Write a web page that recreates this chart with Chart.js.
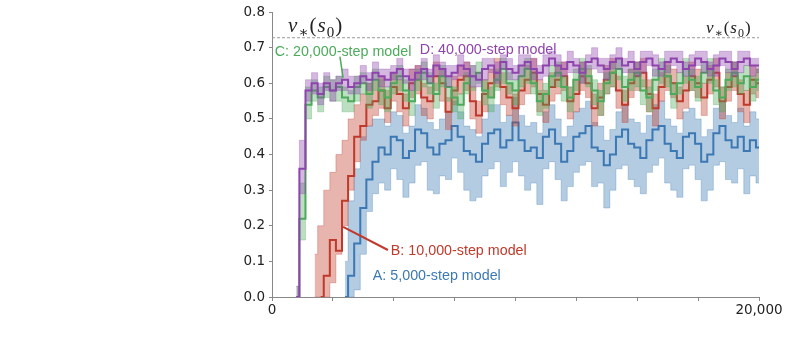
<!DOCTYPE html>
<html>
<head>
<meta charset="utf-8">
<script src="https://cdn.jsdelivr.net/npm/chart.js@4/dist/chart.umd.min.js"></script>
<style>
  html, body { margin: 0; padding: 0; background: #fff; }
  #wrap { width: 789px; height: 349px; }
</style>
</head>
<body>
<div id="wrap"><canvas id="curveChart" width="789" height="349"></canvas></div>
<script>
// training steps (x), one sample every 250 steps
const steps = [
  0, 250, 500, 750, 1000, 1250, 1500, 1750, 2000, 2250,
  2500, 2750, 3000, 3250, 3500, 3750, 4000, 4250, 4500, 4750,
  5000, 5250, 5500, 5750, 6000, 6250, 6500, 6750, 7000, 7250,
  7500, 7750, 8000, 8250, 8500, 8750, 9000, 9250, 9500, 9750,
  10000, 10250, 10500, 10750, 11000, 11250, 11500, 11750, 12000, 12250,
  12500, 12750, 13000, 13250, 13500, 13750, 14000, 14250, 14500, 14750,
  15000, 15250, 15500, 15750, 16000, 16250, 16500, 16750, 17000, 17250,
  17500, 17750, 18000, 18250, 18500, 18750, 19000, 19250, 19500, 19750,
  20000
];
const yTicks = [0, 0.1, 0.2, 0.3, 0.4, 0.5, 0.6, 0.7, 0.8];
const xLabelled = [0, 20000];
const vStar = 0.728;

// A: 5,000-step model
const aMean = [
  null, null, null, null, null, null, null, null, null, null,
  null, null, 0.00, 0.06, 0.15, 0.25, 0.33, 0.38, 0.42, 0.40,
  0.45, 0.44, 0.39, 0.41, 0.47, 0.46, 0.42, 0.40, 0.43, 0.44,
  0.48, 0.45, 0.41, 0.40, 0.38, 0.43, 0.46, 0.47, 0.42, 0.44,
  0.49, 0.44, 0.41, 0.42, 0.39, 0.45, 0.47, 0.43, 0.38, 0.41,
  0.45, 0.46, 0.48, 0.42, 0.41, 0.37, 0.40, 0.45, 0.47, 0.43,
  0.42, 0.39, 0.44, 0.47, 0.48, 0.43, 0.41, 0.39, 0.45, 0.46,
  0.43, 0.38, 0.40, 0.46, 0.48, 0.44, 0.42, 0.45, 0.41, 0.44,
  0.42
];
const aLow = [
  null, null, null, null, null, null, null, null, null, null,
  null, null, 0.00, 0.00, 0.02, 0.12, 0.24, 0.29, 0.32, 0.30,
  0.36, 0.33, 0.28, 0.32, 0.37, 0.38, 0.30, 0.29, 0.34, 0.33,
  0.39, 0.35, 0.30, 0.27, 0.28, 0.34, 0.36, 0.38, 0.31, 0.35,
  0.38, 0.34, 0.30, 0.32, 0.26, 0.36, 0.38, 0.33, 0.27, 0.31,
  0.35, 0.37, 0.38, 0.31, 0.32, 0.25, 0.30, 0.36, 0.37, 0.33,
  0.31, 0.29, 0.35, 0.37, 0.39, 0.32, 0.30, 0.28, 0.36, 0.37,
  0.33, 0.27, 0.30, 0.37, 0.38, 0.33, 0.32, 0.36, 0.29, 0.34,
  0.32
];
const aHigh = [
  null, null, null, null, null, null, null, null, null, null,
  null, null, 0.10, 0.27, 0.36, 0.45, 0.48, 0.50, 0.50, 0.48,
  0.52, 0.51, 0.46, 0.48, 0.54, 0.53, 0.49, 0.47, 0.50, 0.52,
  0.55, 0.52, 0.48, 0.47, 0.45, 0.50, 0.54, 0.54, 0.49, 0.51,
  0.56, 0.51, 0.48, 0.49, 0.46, 0.52, 0.54, 0.50, 0.45, 0.48,
  0.52, 0.53, 0.55, 0.49, 0.48, 0.44, 0.47, 0.52, 0.54, 0.50,
  0.49, 0.46, 0.51, 0.54, 0.55, 0.50, 0.48, 0.46, 0.52, 0.53,
  0.50, 0.45, 0.47, 0.53, 0.55, 0.51, 0.49, 0.53, 0.48, 0.52,
  0.50
];

// B: 10,000-step model
const bMean = [
  null, null, null, null, null, null, null, null, 0.00, 0.06,
  0.16, 0.13, 0.27, 0.34, 0.45, 0.48, 0.54, 0.55, 0.58, 0.53,
  0.59, 0.57, 0.53, 0.60, 0.61, 0.56, 0.55, 0.62, 0.60, 0.52,
  0.58, 0.61, 0.62, 0.55, 0.51, 0.57, 0.60, 0.63, 0.59, 0.56,
  0.53, 0.58, 0.61, 0.63, 0.57, 0.54, 0.59, 0.61, 0.62, 0.55,
  0.57, 0.62, 0.60, 0.53, 0.56, 0.61, 0.63, 0.58, 0.54, 0.60,
  0.62, 0.63, 0.57, 0.53, 0.59, 0.62, 0.60, 0.55, 0.58, 0.62,
  0.60, 0.56, 0.61, 0.63, 0.55, 0.59, 0.62, 0.57, 0.54, 0.61,
  0.60
];
const bLow = [
  null, null, null, null, null, null, null, 0.00, 0.00, 0.00,
  0.04, 0.12, 0.20, 0.30, 0.38, 0.44, 0.48, 0.51, 0.53, 0.49,
  0.55, 0.52, 0.48, 0.56, 0.57, 0.51, 0.50, 0.58, 0.55, 0.47,
  0.54, 0.57, 0.58, 0.50, 0.46, 0.52, 0.56, 0.59, 0.54, 0.51,
  0.48, 0.54, 0.57, 0.59, 0.52, 0.49, 0.55, 0.57, 0.58, 0.50,
  0.52, 0.58, 0.56, 0.48, 0.51, 0.57, 0.59, 0.53, 0.49, 0.56,
  0.58, 0.59, 0.52, 0.48, 0.55, 0.58, 0.56, 0.50, 0.53, 0.58,
  0.56, 0.51, 0.57, 0.59, 0.50, 0.55, 0.58, 0.52, 0.49, 0.57,
  0.56
];
const bHigh = [
  null, null, null, null, null, null, null, 0.12, 0.20, 0.30,
  0.35, 0.40, 0.44, 0.50, 0.54, 0.57, 0.60, 0.61, 0.62, 0.58,
  0.63, 0.61, 0.57, 0.64, 0.65, 0.60, 0.59, 0.66, 0.64, 0.56,
  0.62, 0.65, 0.66, 0.59, 0.55, 0.61, 0.64, 0.67, 0.63, 0.60,
  0.57, 0.62, 0.65, 0.67, 0.61, 0.58, 0.63, 0.65, 0.66, 0.59,
  0.61, 0.66, 0.64, 0.57, 0.60, 0.65, 0.67, 0.62, 0.58, 0.64,
  0.66, 0.67, 0.61, 0.57, 0.63, 0.66, 0.64, 0.59, 0.62, 0.66,
  0.64, 0.60, 0.65, 0.67, 0.59, 0.63, 0.66, 0.61, 0.58, 0.65,
  0.64
];

// C: 20,000-step model
const cMean = [
  null, null, null, null, 0.00, 0.22, 0.54, 0.58, 0.56, 0.59,
  0.58, 0.59, 0.56, 0.55, 0.59, 0.60, 0.57, 0.61, 0.58, 0.56,
  0.60, 0.62, 0.58, 0.55, 0.61, 0.63, 0.60, 0.57, 0.62, 0.59,
  0.56, 0.54, 0.60, 0.62, 0.63, 0.58, 0.56, 0.61, 0.64, 0.60,
  0.58, 0.62, 0.64, 0.60, 0.55, 0.57, 0.62, 0.63, 0.59, 0.56,
  0.61, 0.64, 0.62, 0.58, 0.55, 0.60, 0.63, 0.64, 0.59, 0.61,
  0.63, 0.58, 0.56, 0.61, 0.64, 0.62, 0.57, 0.60, 0.64, 0.61,
  0.59, 0.63, 0.64, 0.58, 0.56, 0.61, 0.63, 0.60, 0.62, 0.59,
  0.61
];
const cLow = [
  null, null, null, null, 0.00, 0.16, 0.50, 0.55, 0.52, 0.56,
  0.55, 0.55, 0.52, 0.52, 0.55, 0.57, 0.53, 0.58, 0.54, 0.52,
  0.57, 0.58, 0.55, 0.51, 0.58, 0.59, 0.57, 0.53, 0.59, 0.55,
  0.52, 0.50, 0.57, 0.58, 0.60, 0.54, 0.52, 0.58, 0.60, 0.57,
  0.54, 0.59, 0.60, 0.57, 0.51, 0.53, 0.59, 0.59, 0.55, 0.52,
  0.58, 0.60, 0.59, 0.54, 0.51, 0.57, 0.59, 0.61, 0.55, 0.58,
  0.59, 0.54, 0.52, 0.58, 0.60, 0.59, 0.53, 0.57, 0.60, 0.58,
  0.55, 0.60, 0.60, 0.54, 0.52, 0.58, 0.59, 0.57, 0.58, 0.55,
  0.58
];
const cHigh = [
  null, null, null, null, 0.03, 0.32, 0.59, 0.61, 0.59, 0.62,
  0.61, 0.62, 0.59, 0.58, 0.62, 0.63, 0.60, 0.64, 0.61, 0.59,
  0.63, 0.65, 0.61, 0.58, 0.64, 0.66, 0.63, 0.60, 0.65, 0.62,
  0.59, 0.57, 0.63, 0.65, 0.66, 0.61, 0.59, 0.64, 0.67, 0.63,
  0.61, 0.65, 0.67, 0.63, 0.58, 0.60, 0.65, 0.66, 0.62, 0.59,
  0.64, 0.67, 0.65, 0.61, 0.58, 0.63, 0.66, 0.67, 0.62, 0.64,
  0.66, 0.61, 0.59, 0.64, 0.67, 0.65, 0.60, 0.63, 0.67, 0.64,
  0.62, 0.66, 0.67, 0.61, 0.59, 0.64, 0.66, 0.63, 0.65, 0.62,
  0.64
];

// D: 40,000-step model
const dMean = [
  null, null, null, null, 0.00, 0.36, 0.58, 0.60, 0.57, 0.60,
  0.58, 0.60, 0.61, 0.59, 0.60, 0.62, 0.61, 0.63, 0.62, 0.61,
  0.63, 0.64, 0.62, 0.61, 0.63, 0.64, 0.62, 0.65, 0.64, 0.62,
  0.63, 0.65, 0.64, 0.62, 0.61, 0.64, 0.65, 0.63, 0.66, 0.64,
  0.63, 0.65, 0.66, 0.64, 0.63, 0.65, 0.67, 0.65, 0.64, 0.66,
  0.65, 0.63, 0.66, 0.67, 0.65, 0.64, 0.66, 0.67, 0.65, 0.66,
  0.64, 0.66, 0.67, 0.65, 0.64, 0.66, 0.67, 0.66, 0.64, 0.65,
  0.67, 0.66, 0.64, 0.65, 0.67, 0.66, 0.64, 0.66, 0.67, 0.65,
  0.65
];
const dLow = [
  null, null, null, null, 0.00, 0.29, 0.55, 0.57, 0.54, 0.58,
  0.55, 0.58, 0.58, 0.57, 0.57, 0.60, 0.58, 0.61, 0.59, 0.59,
  0.61, 0.61, 0.60, 0.58, 0.61, 0.61, 0.60, 0.62, 0.62, 0.59,
  0.61, 0.62, 0.62, 0.59, 0.59, 0.61, 0.63, 0.60, 0.64, 0.61,
  0.61, 0.62, 0.64, 0.61, 0.61, 0.62, 0.65, 0.62, 0.62, 0.63,
  0.63, 0.60, 0.64, 0.64, 0.63, 0.61, 0.64, 0.64, 0.63, 0.63,
  0.62, 0.63, 0.65, 0.62, 0.62, 0.63, 0.65, 0.63, 0.62, 0.62,
  0.65, 0.63, 0.62, 0.62, 0.65, 0.63, 0.62, 0.63, 0.65, 0.62,
  0.63
];
const dHigh = [
  null, null, null, null, 0.03, 0.44, 0.61, 0.63, 0.60, 0.63,
  0.61, 0.62, 0.64, 0.62, 0.62, 0.65, 0.63, 0.66, 0.64, 0.64,
  0.65, 0.67, 0.64, 0.64, 0.65, 0.67, 0.64, 0.68, 0.66, 0.65,
  0.65, 0.68, 0.66, 0.65, 0.63, 0.67, 0.67, 0.66, 0.68, 0.67,
  0.65, 0.68, 0.68, 0.67, 0.65, 0.68, 0.69, 0.68, 0.66, 0.69,
  0.67, 0.66, 0.68, 0.70, 0.67, 0.67, 0.68, 0.70, 0.67, 0.69,
  0.66, 0.69, 0.69, 0.68, 0.66, 0.69, 0.69, 0.69, 0.66, 0.68,
  0.69, 0.69, 0.66, 0.68, 0.69, 0.69, 0.66, 0.69, 0.69, 0.67,
  0.67
];

const blue = '#3b78b4', red = '#c0392b', green = '#4caa5a', purple = '#8e44ad';

function pts(vals) {
  return steps.map((s, i) => ({ x: s, y: vals[i] }));
}

function band(lo, hi, rgb, order) {
  return [
    { data: pts(lo), borderColor: 'rgba(' + rgb + ',0.3)', borderWidth: 1, fill: false, order: order + 2 },
    { data: pts(hi), borderColor: 'rgba(' + rgb + ',0.3)', borderWidth: 1,
      backgroundColor: 'rgba(' + rgb + ',0.38)', fill: '-1', order: order + 1 }
  ];
}

function meanLine(vals, color, order) {
  return { data: pts(vals), borderColor: color, borderWidth: 2, fill: false, order: order };
}

const datasets = [
  ...band(aLow, aHigh, '59,120,180', 40), meanLine(aMean, blue, 40),
  ...band(bLow, bHigh, '192,57,43', 30), meanLine(bMean, red, 30),
  ...band(cLow, cHigh, '76,170,90', 20), meanLine(cMean, green, 20),
  ...band(dLow, dHigh, '142,68,173', 10), meanLine(dMean, purple, 10)
];

// v*(s0) written as pieces: italic letters, subscripts
function drawVStar(ctx, x, y, size) {
  const parts = [
    { t: 'v', f: 'italic ' + size + 'px "Liberation Serif"', dy: 0 },
    { t: '\u2217', f: Math.round(size * 0.7) + 'px "DejaVu Serif"', dy: size * 0.25 },
    { t: '(', f: size + 'px "Liberation Serif"', dy: 0 },
    { t: 's', f: 'italic ' + size + 'px "Liberation Serif"', dy: 0 },
    { t: '0', f: Math.round(size * 0.7) + 'px "Liberation Serif"', dy: size * 0.25 },
    { t: ')', f: size + 'px "Liberation Serif"', dy: 0 }
  ];
  ctx.fillStyle = '#222';
  ctx.textBaseline = 'alphabetic';
  ctx.textAlign = 'left';
  for (const p of parts) {
    ctx.font = p.f;
    ctx.fillText(p.t, x, y + p.dy);
    x += ctx.measureText(p.t).width + 1;
  }
}

const notes = {
  id: 'notes',
  afterDatasetsDraw(chart) {
    const { ctx, chartArea, scales: { x, y } } = chart;
    ctx.save();
    // optimal value line
    const yv = y.getPixelForValue(vStar);
    ctx.strokeStyle = '#999';
    ctx.lineWidth = 1;
    ctx.setLineDash([3, 2]);
    ctx.beginPath();
    ctx.moveTo(chartArea.left, yv);
    ctx.lineTo(chartArea.right, yv);
    ctx.stroke();
    ctx.setLineDash([]);
    drawVStar(ctx, 288, 32, 21);
    drawVStar(ctx, 706, 33, 17);

    // leader lines
    ctx.lineWidth = 1.5;
    ctx.strokeStyle = green;
    ctx.beginPath();
    ctx.moveTo(x.getPixelForValue(2790), y.getPixelForValue(0.675));
    ctx.lineTo(x.getPixelForValue(2920), y.getPixelForValue(0.615));
    ctx.stroke();
    ctx.lineWidth = 2;
    ctx.strokeStyle = red;
    ctx.beginPath();
    ctx.moveTo(x.getPixelForValue(2920), y.getPixelForValue(0.197));
    ctx.lineTo(x.getPixelForValue(4760), y.getPixelForValue(0.132));
    ctx.stroke();

    // model labels
    ctx.font = '14.3px "Liberation Sans"';
    ctx.textBaseline = 'middle';
    ctx.textAlign = 'left';
    const labels = [
      ['C: 20,000-step model', green, 110, 0.689],
      ['D: 40,000-step model', purple, 6070, 0.694],
      ['B: 10,000-step model', red, 4880, 0.129],
      ['A: 5,000-step model', blue, 4140, 0.059]
    ];
    for (const [t, c, sx, sy] of labels) {
      ctx.fillStyle = c;
      ctx.fillText(t, x.getPixelForValue(sx), y.getPixelForValue(sy));
    }
    ctx.restore();
  }
};

new Chart(document.getElementById('curveChart').getContext('2d'), {
  type: 'line',
  data: { datasets: datasets },
  options: {
    responsive: false,
    animation: false,
    layout: { padding: { left: 222, right: 30, top: 12, bottom: 30 } },
    elements: { point: { radius: 0 }, line: { stepped: 'middle', tension: 0 } },
    plugins: { legend: { display: false }, tooltip: { enabled: false } },
    scales: {
      x: {
        type: 'linear', min: 0, max: 20000,
        afterFit: (s) => { s.height = 22; },
        border: { display: true, color: '#888', width: 1 },
        grid: { display: true, drawOnChartArea: false, drawTicks: true, tickLength: 4, color: '#888' },
        ticks: {
          stepSize: 2500, padding: 1, color: '#222', maxRotation: 0, autoSkip: false,
          font: { family: 'DejaVu Sans', size: 13.5 },
          callback: (v) => xLabelled.includes(v) ? v.toLocaleString('en-US') : ''
        }
      },
      y: {
        min: 0, max: 0.8,
        afterFit: (s) => { s.width = 50; },
        afterBuildTicks: (s) => { s.ticks = yTicks.map(v => ({ value: v })); },
        border: { display: true, color: '#888', width: 1 },
        grid: { display: true, drawOnChartArea: false, drawTicks: true, tickLength: 3, color: '#888' },
        ticks: {
          padding: 4, color: '#222',
          font: { family: 'DejaVu Sans', size: 13.5 },
          callback: (v) => v.toFixed(1)
        }
      }
    }
  },
  plugins: [notes]
});
</script>
</body>
</html>
